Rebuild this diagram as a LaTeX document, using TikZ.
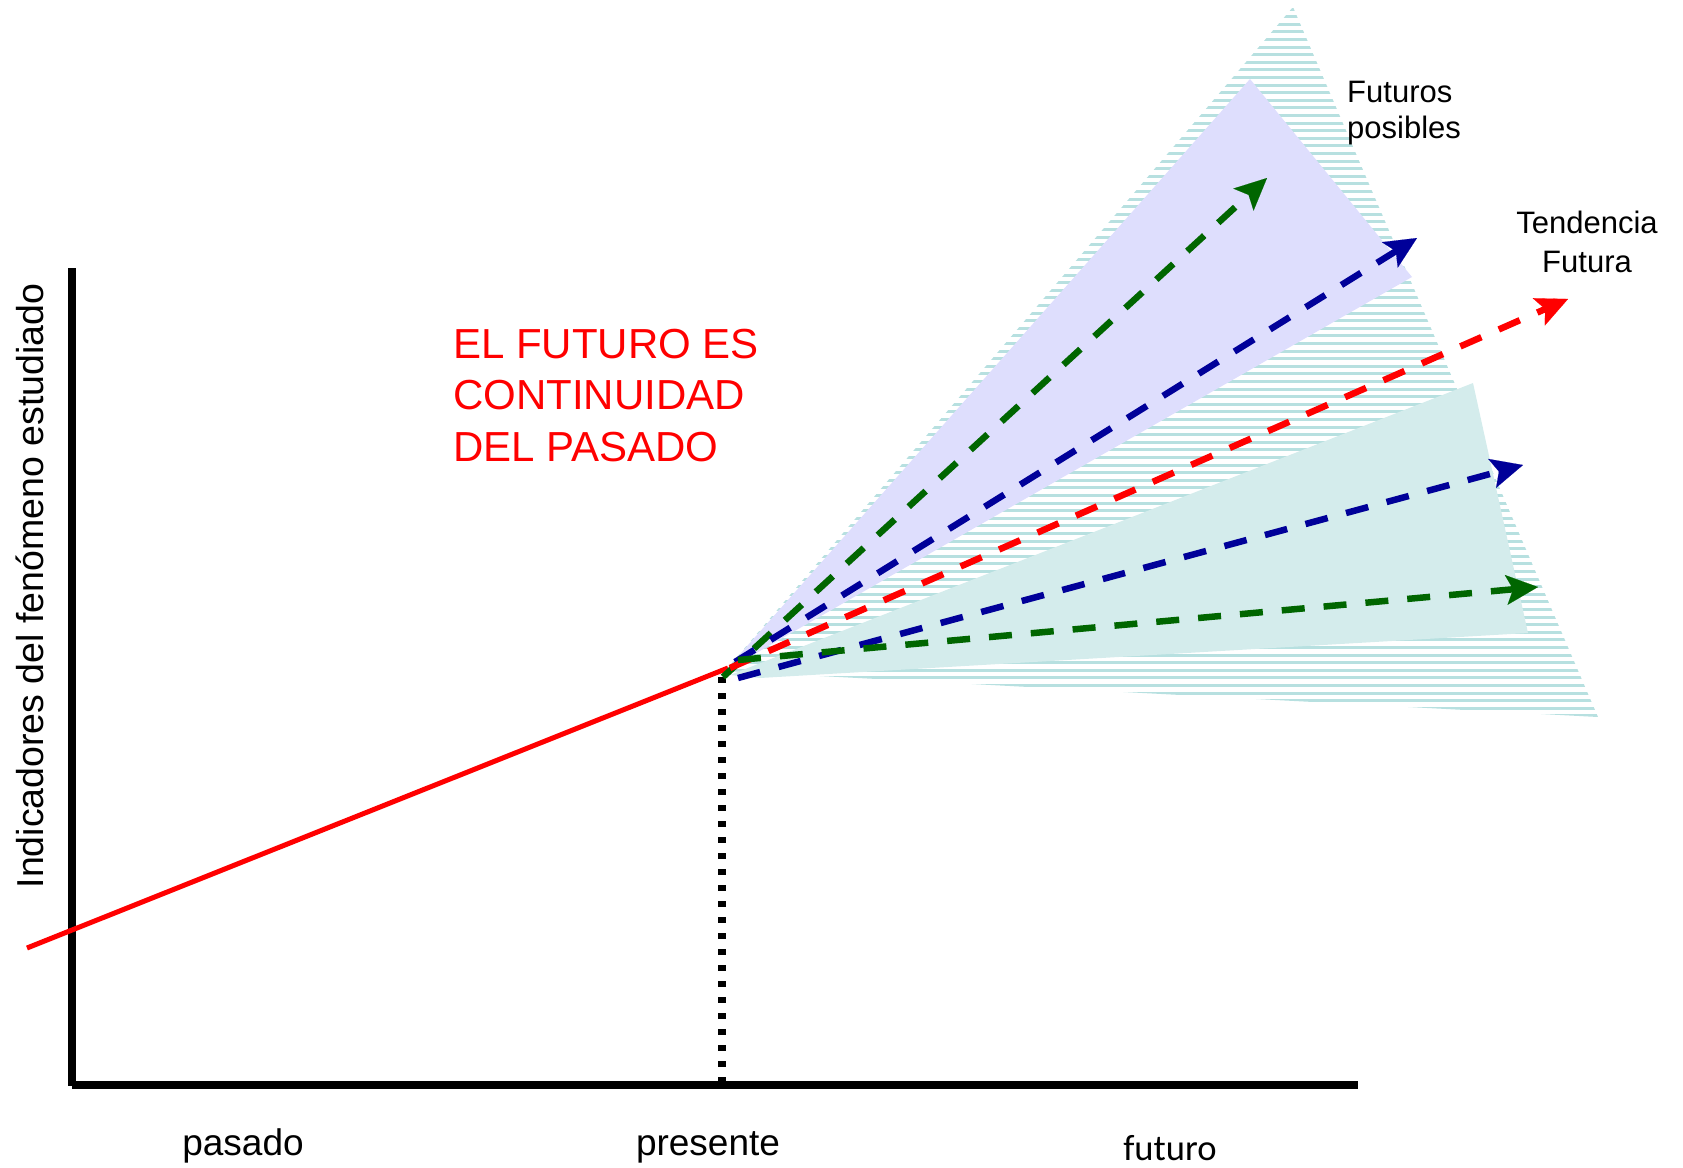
\documentclass[tikz,border=0pt]{standalone}
\usepackage{fontspec}
\setmainfont{Liberation Sans}
\newfontfamily\calibrifont{Carlito}
\usetikzlibrary{arrows.meta}
\definecolor{hatchc}{RGB}{183,224,224}
\definecolor{lav}{RGB}{222,222,253}
\definecolor{tealf}{RGB}{212,236,236}
\definecolor{navy}{RGB}{0,0,153}
\definecolor{dgreen}{RGB}{0,102,0}
\begin{document}
\begin{tikzpicture}[x=1pt,y=-1pt,
  fut/.style={dash pattern=on 23pt off 19pt, line width=6.5pt,
    -{Stealth[length=32pt,width=30pt,inset=7pt,line width=0.1pt]}},
  axisline/.style={line width=7.5pt, black},
  lbl/.style={inner sep=0pt, font=\fontsize{37}{44}\selectfont}]
\useasboundingbox (0,0) rectangle (1683,1167);
% named points
\coordinate (apex) at (728,668);
\coordinate (past) at (27,948);
\coordinate (hT) at (1293,7);
\coordinate (hB) at (1598,717);
\coordinate (hA) at (725,671);
\coordinate (pA) at (725,671);
\coordinate (pT) at (1250,79);
\coordinate (pR) at (1412,277);
\coordinate (tA) at (730,675);
\coordinate (tT) at (1473,383);
\coordinate (tR) at (1528,633);
\coordinate (tB) at (760,678);
\coordinate (g1s) at (723,677);  \coordinate (g1e) at (1267,178);
\coordinate (b1s) at (735,662);  \coordinate (b1e) at (1417,238);
\coordinate (rs)  at (730,668);  \coordinate (re)  at (1568,299);
\coordinate (b2s) at (738,678);  \coordinate (b2e) at (1523,465);
\coordinate (g2s) at (738,660);  \coordinate (g2e) at (1538,587);
\coordinate (yTop) at (72,268);  \coordinate (yBot) at (72,1086);
\coordinate (xL) at (72,1085);   \coordinate (xR) at (1358,1085);
\coordinate (dTop) at (722,677); \coordinate (dBot) at (722,1082);
% hatched triangle
\begin{scope}
  \clip (hA) -- (hT) -- (hB) -- cycle;
  \foreach \y in {9,16.6,...,725} \draw[hatchc, line width=3pt] (700,\y) -- (1620,\y);
\end{scope}
% shaded regions
\fill[lav] (pA) -- (pT) -- (pR) -- cycle;
\fill[tealf] (tA) -- (tT) -- (tR) -- (tB) -- cycle;
% axes
\draw[axisline] (yTop) -- (yBot);
\draw[axisline] (xL) -- (xR);
% present marker
\draw[line width=8pt, dash pattern=on 6pt off 10pt] (dTop) -- (dBot);
% past trend
\draw[red, line width=5pt] (past) -- (apex);
% futures
\draw[fut, dgreen] (g1s) -- (g1e);
\draw[fut, navy] (b1s) -- (b1e);
\draw[fut, red] (rs) -- (re);
\draw[fut, navy] (b2s) -- (b2e);
\draw[fut, dgreen] (g2s) -- (g2e);
% texts (base anchor = last line baseline)
\node[inner sep=0pt, anchor=base west, align=left, text=red,
  font=\fontsize{42}{51.5}\selectfont] (msg) at (453,461)
  {EL FUTURO ES\\CONTINUIDAD\\DEL PASADO};
\node[inner sep=0pt, anchor=base west, align=left,
  font=\fontsize{31}{36}\selectfont] (fp) at (1347,138) {Futuros\\posibles};
\node[inner sep=0pt, anchor=base, align=center,
  font=\fontsize{31}{39}\selectfont] (tf) at (1587,272) {Tendencia\\Futura};
\node[lbl, rotate=90, anchor=base, font=\fontsize{37.5}{45}\selectfont] (ylab) at (43,586)
  {Indicadores del fenómeno estudiado};
\node[lbl, anchor=base] (pas) at (243,1155) {pasado};
\node[lbl, anchor=base] (pre) at (708,1155) {presente};
\node[lbl, anchor=base, font=\calibrifont\fontsize{36.6}{44}\selectfont] (fut) at (1170,1160) {futuro};
\end{tikzpicture}
\end{document}
